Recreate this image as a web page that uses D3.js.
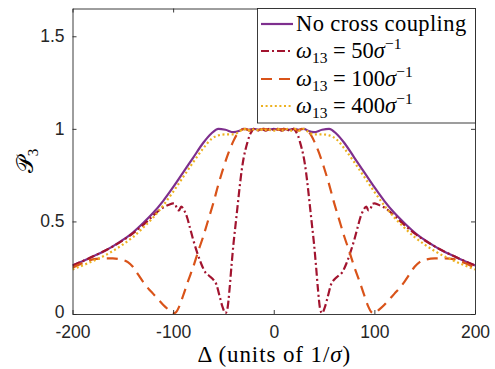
<!DOCTYPE html>
<html>
<head>
<meta charset="utf-8">
<script src="https://cdn.jsdelivr.net/npm/d3@7"></script>
<style>
  html, body { margin: 0; padding: 0; background: #fff; }
  svg { display: block; }
</style>
</head>
<body>
<svg id="chart" width="495" height="369"></svg>
<script>
// ---------------- data ----------------
const xTicks = [-200, -100, 0, 100, 200];
const xTickLabels = ["-200", "-100", "0", "100", "200"];
const yTicks = [0, 0.5, 1, 1.5];
const yTickLabels = ["0", "0.5", "1", "1.5"];

// No cross coupling
const noCouplingX = [-200,-190,-180,-170,-160,-150,-140,-130,-120,-110,-100,-90,-80,-70,-62,-55,-48,-40,-34,-30,-25,-20,-15,-10,-5,0,5,10,15,20,25,30,34,40,48,55,62,70,80,90,100,110,120,130,140,150,160,170,180,190,200];
const noCouplingY = [0.262,0.285,0.31,0.335,0.365,0.40,0.44,0.49,0.545,0.61,0.685,0.765,0.845,0.925,0.975,1.0,0.995,0.982,0.99,1.0,0.995,1.0,0.995,1.0,0.995,1.0,0.995,1.0,0.995,1.0,0.995,1.0,0.99,0.982,0.995,1.0,0.975,0.925,0.845,0.765,0.685,0.61,0.545,0.49,0.44,0.40,0.365,0.335,0.31,0.285,0.262];

// omega13 = 50 / sigma
const w50X = [-200,-180,-160,-140,-130,-120,-115,-110,-104,-100,-98,-96,-94,-92,-89,-86,-83,-80,-76,-72,-68,-64,-60,-57,-54,-51,-48,-46,-44,-42,-40,-38,-36,-34,-32,-30,-28,-26,-24,-22,-20,-16,-12,-8,-4,0,4,8,12,16,20,22,24,26,28,30,32,34,36,38,40,42,44,46,48,51,54,57,60,64,68,72,76,80,83,86,89,92,94,96,98,100,104,110,115,120,130,140,160,180,200];
const w50Y = [0.262,0.31,0.365,0.435,0.48,0.53,0.555,0.575,0.59,0.597,0.595,0.565,0.56,0.58,0.56,0.52,0.46,0.40,0.33,0.27,0.225,0.205,0.185,0.16,0.10,0.04,0.005,0.03,0.13,0.26,0.38,0.48,0.58,0.68,0.77,0.84,0.89,0.93,0.965,0.985,1.0,0.99,1.0,0.99,1.0,0.995,1.0,0.99,1.0,0.99,1.0,0.985,0.965,0.93,0.89,0.84,0.77,0.68,0.58,0.48,0.38,0.26,0.13,0.03,0.005,0.04,0.10,0.16,0.185,0.205,0.225,0.27,0.33,0.40,0.46,0.52,0.56,0.58,0.56,0.565,0.595,0.597,0.59,0.575,0.555,0.53,0.48,0.435,0.365,0.31,0.262];

// omega13 = 100 / sigma
const w100X = [-200,-190,-180,-170,-160,-152,-145,-140,-135,-130,-125,-120,-115,-110,-105,-100,-97,-94,-90,-85,-80,-75,-70,-65,-60,-55,-50,-45,-40,-36,-32,-28,-24,-20,-15,-10,-5,0,5,10,15,20,24,28,32,36,40,45,50,55,60,65,70,75,80,85,90,94,97,100,105,110,115,120,125,130,135,140,145,152,160,170,180,190,200];
const w100Y = [0.25,0.275,0.295,0.30,0.30,0.295,0.28,0.255,0.215,0.175,0.14,0.11,0.08,0.05,0.025,0.003,0.01,0.04,0.10,0.18,0.255,0.34,0.42,0.51,0.60,0.70,0.79,0.87,0.935,0.975,0.995,1.0,0.99,1.0,0.995,1.0,0.995,1.0,0.995,1.0,0.995,1.0,0.99,1.0,0.995,0.975,0.935,0.87,0.79,0.70,0.60,0.51,0.42,0.34,0.255,0.18,0.10,0.04,0.01,0.003,0.025,0.05,0.08,0.11,0.14,0.175,0.215,0.255,0.28,0.295,0.30,0.30,0.295,0.275,0.25];

// omega13 = 400 / sigma
const w400X = [-200,-190,-180,-170,-160,-150,-140,-130,-120,-110,-100,-90,-80,-70,-62,-55,-48,-40,-34,-30,-26,-22,-18,-14,-10,-6,-2,2,6,10,14,18,22,26,30,34,40,48,55,62,70,80,90,100,110,120,130,140,150,160,170,180,190,200];
const w400Y = [0.24,0.262,0.285,0.31,0.34,0.375,0.415,0.465,0.52,0.585,0.66,0.74,0.82,0.895,0.945,0.965,0.97,0.97,0.985,1.0,0.99,1.0,0.99,1.0,0.99,1.0,0.99,0.99,1.0,0.99,1.0,0.99,1.0,0.99,1.0,0.985,0.97,0.97,0.965,0.945,0.895,0.82,0.74,0.66,0.585,0.52,0.465,0.415,0.375,0.34,0.31,0.285,0.262,0.24];

const seriesNames = ["No cross coupling", "50", "100", "400"];
const seriesColors = ["#7E2F8E", "#A2142F", "#D95319", "#EDB120"];
const seriesDash = [null, "8,3,2,3", "11,7", "2,2.6"];

// ---------------- layout ----------------
const svg = d3.select("#chart");
const L = 72.5, R = 475, T = 8.5, B = 314;
const x = d3.scaleLinear().domain([-200, 200]).range([L, R]);
const y = d3.scaleLinear().domain([0, 1.65]).range([B, T]);
const axisColor = "#262626";

svg.append("defs").append("clipPath").attr("id", "clip")
  .append("rect").attr("x", L).attr("y", T).attr("width", R - L).attr("height", B - T);

// curves
const data = [
  noCouplingX.map((d, i) => [d, noCouplingY[i]]),
  w50X.map((d, i) => [d, w50Y[i]]),
  w100X.map((d, i) => [d, w100Y[i]]),
  w400X.map((d, i) => [d, w400Y[i]])
];
const line = d3.line().x(d => x(d[0])).y(d => y(d[1])).curve(d3.curveMonotoneX);
const gLines = svg.append("g").attr("clip-path", "url(#clip)");
data.forEach((pts, i) => {
  gLines.append("path")
    .attr("d", line(pts))
    .attr("fill", "none")
    .attr("stroke", seriesColors[i])
    .attr("stroke-width", 2.2)
    .attr("stroke-dasharray", seriesDash[i])
    .attr("stroke-linejoin", "round");
});

// axes (box with inward ticks)
const tl = 4;
const fontTick = "'Liberation Sans', Arial, sans-serif";
const axB = svg.append("g").attr("transform", `translate(0,${B})`)
  .call(d3.axisBottom(x).tickValues(xTicks).tickSizeInner(-tl).tickSizeOuter(0).tickPadding(12).tickFormat((d, i) => xTickLabels[i]));
const axT = svg.append("g").attr("transform", `translate(0,${T})`)
  .call(d3.axisTop(x).tickValues(xTicks).tickSizeInner(-tl).tickSizeOuter(0).tickFormat(""));
const axL = svg.append("g").attr("transform", `translate(${L},0)`)
  .call(d3.axisLeft(y).tickValues(yTicks).tickSizeInner(-tl).tickSizeOuter(0).tickPadding(8).tickFormat((d, i) => yTickLabels[i]));
const axR = svg.append("g").attr("transform", `translate(${R},0)`)
  .call(d3.axisRight(y).tickValues(yTicks).tickSizeInner(-tl).tickSizeOuter(0).tickFormat(""));
[axB, axT, axL, axR].forEach(g => {
  g.selectAll("path.domain").attr("stroke", axisColor).attr("stroke-width", 0.9);
  g.selectAll(".tick line").attr("stroke", axisColor).attr("stroke-width", 0.9);
  g.selectAll(".tick text").attr("fill", axisColor).style("font-family", fontTick).style("font-size", "17.5px");
});
axB.selectAll(".tick text").attr("dy", "0.66em");
axL.selectAll(".tick text").attr("dy", (d) => d === 0 ? "0.18em" : "0.3em");

// axis titles
const serif = "'Liberation Serif', 'DejaVu Serif', serif";
const xl = svg.append("text").attr("x", (L + R) / 2 + 0.5).attr("y", 362)
  .attr("text-anchor", "middle").style("font-family", serif).style("font-size", "23px")
  .style("letter-spacing", "0.9px").attr("fill", "#000");
xl.append("tspan").text("Δ (units of 1/");
xl.append("tspan").style("font-style", "italic").text("σ");
xl.append("tspan").text(")");

const yl = svg.append("text").attr("transform", "translate(33,161) rotate(-90)")
  .attr("text-anchor", "middle").style("font-family", serif).style("font-size", "23px").attr("fill", "#000");
yl.append("tspan").text("𝒫");
yl.append("tspan").attr("dy", 5).style("font-size", "15px").text("3");

// legend
const lgX = 257.5, lgY = 8.5, lgW = 218, lgH = 114.5;
const lg = svg.append("g");
lg.append("rect").attr("x", lgX).attr("y", lgY).attr("width", lgW).attr("height", lgH)
  .attr("fill", "#fff").attr("stroke", axisColor).attr("stroke-width", 0.9);
const rowY = [24, 51, 79, 106];
seriesNames.forEach((name, i) => {
  lg.append("line").attr("x1", 261).attr("x2", 293).attr("y1", rowY[i]).attr("y2", rowY[i])
    .attr("stroke", seriesColors[i]).attr("stroke-width", 2.2).attr("stroke-dasharray", seriesDash[i]);
  const t = lg.append("text").attr("x", 296).attr("y", rowY[i] + 7)
    .style("font-family", serif).style("font-size", "22.5px").attr("fill", "#000");
  if (i === 0) {
    t.style("letter-spacing", "0.4px").text(name);
  } else {
    t.append("tspan").style("font-style", "italic").text("ω");
    t.append("tspan").attr("dy", 5).style("font-size", "15.5px").text("13");
    t.append("tspan").attr("dy", -5).text(" = " + name);
    t.append("tspan").style("font-style", "italic").text("σ");
    t.append("tspan").attr("dy", -9).style("font-size", "15.5px").text("−1");
  }
});
</script>
</body>
</html>
